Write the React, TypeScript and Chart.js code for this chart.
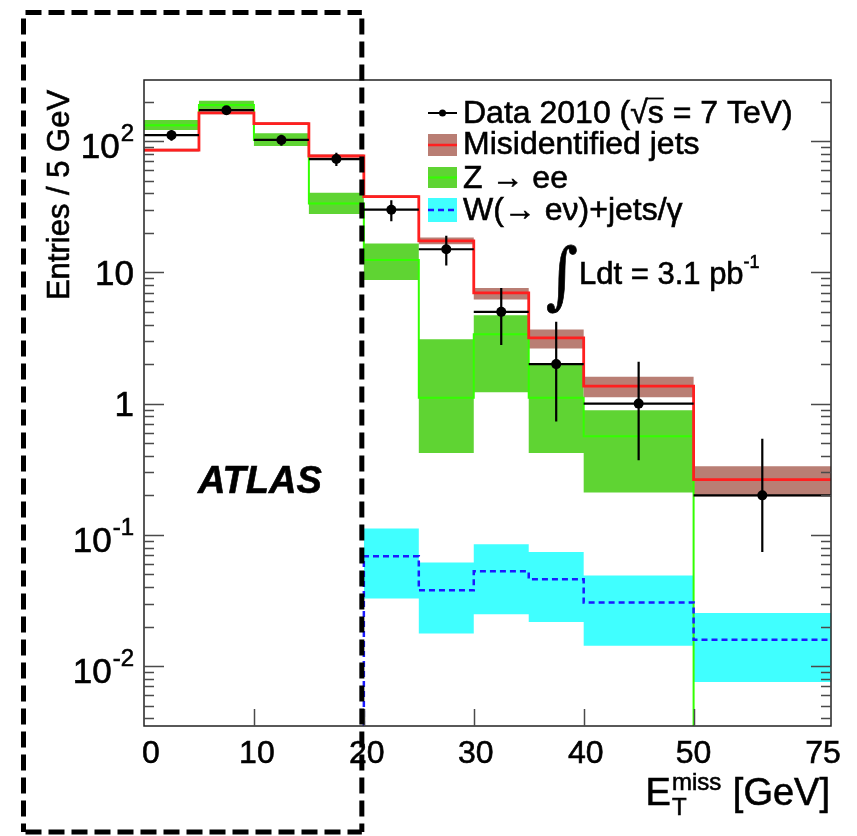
import { useEffect, useRef } from "react";
import { Chart, registerables } from "chart.js";

Chart.register(...registerables);

// Bin edges in GeV; the last bin spans 50–75 GeV
const binEdges = [0, 5, 10, 15, 20, 25, 30, 35, 40, 50, 75];

// Data 2010: entries / 5 GeV and the ends of the error bars
const dataValues = [111, 172, 102, 73, 30, 15, 5, 2, 1, 0.2];
const dataHigh = [121.5, 185, 112, 81.5, 35.5, 19, 7.6, 4.2, 2.08, 0.54];
const dataLow = [100.5, 159, 92, 64.5, 24.5, 11.3, 2.8, 0.73, 0.37, 0.074];

// Misidentified jets: central value and uncertainty band
const jetsValues = [85.4, 164, 136, 77, 37.7, 17.4, 6.98, 3.17, 1.36, 0.264];
const jetsHigh = [87.5, 168, 139, 79, 38.6, 18.4, 7.6, 3.67, 1.6, 0.333];
const jetsLow = [83.3, 160, 133, 75, 36.8, 16.4, 6.2, 2.63, 1.12, 0.197];

// Z -> ee: central value and uncertainty band (no entries above 50 GeV)
const zeeValues = [132, 188, 102, 33.5, 12.4, 1.11, 3.37, 1.11, 0.565, 0];
const zeeHigh = [144.6, 203, 114.5, 40.4, 16.6, 3.09, 4.71, 2.02, 0.89, null];
const zeeLow = [121.3, 174.5, 91.6, 27.8, 8.76, 0.42, 1.22, 0.42, 0.21, null];

// W(-> e nu)+jets/gamma: central value and uncertainty band (none below 20 GeV)
const wValues = [0, 0, 0, 0, 0.0687, 0.0378, 0.0528, 0.0459, 0.0305, 0.0159];
const wHigh = [null, null, null, null, 0.1117, 0.0615, 0.0848, 0.0742, 0.049, 0.0254];
const wLow = [null, null, null, null, 0.0327, 0.0177, 0.0248, 0.0217, 0.0143, 0.00757];

// Axis ticks
const xTickValues = [0, 10, 20, 30, 40, 50, 75];
const yDecades = [-2, -1, 0, 1, 2];
const Y_MIN = 0.0035;
const Y_MAX = 292;

// The 50–75 GeV bin is drawn at half the width per GeV of the others
const axisX = (gev: number) => (gev <= 50 ? gev : 50 + (gev - 50) / 2);

// Step-histogram points: one point per left edge, plus the right edge of each run
function stepSeries(vals: (number | null)[]) {
  const pts: { x: number; y: number }[] = [];
  vals.forEach((v, i) => {
    if (v === null) return;
    const y = v > 0 ? v : Y_MIN / 10; // empty bins fall below the axis floor
    pts.push({ x: axisX(binEdges[i]), y });
    if (i === vals.length - 1 || vals[i + 1] === null) {
      pts.push({ x: axisX(binEdges[i + 1]), y });
    }
  });
  return pts;
}

const FAMILY = '"Liberation Sans", Arial, Helvetica, sans-serif';
const font = (px: number, style = "") => `${style} ${px}px ${FAMILY}`.trim();

const COLORS = {
  jetsBand: "#b97e74",
  jetsLine: "#ff1f1f",
  zeeBand: "#5fd433",
  zeeLine: "#33ff00",
  wBand: "#40ffff",
  wLine: "#1a1aff",
};

// filled text with a thin outline so the glyphs carry a little more weight
function text(ctx: CanvasRenderingContext2D, s: string, x: number, y: number) {
  ctx.fillText(s, x, y);
  ctx.save();
  ctx.lineWidth = 0.6;
  ctx.strokeStyle = ctx.fillStyle as string;
  ctx.setLineDash([]);
  ctx.strokeText(s, x, y);
  ctx.restore();
}

const decorations = {
  id: "atlasDecorations",
  afterDatasetsDraw(chart: any) {
    const { ctx, scales } = chart;
    const xs = scales.x;
    const ys = scales.y;
    ctx.save();
    ctx.strokeStyle = "#000";
    ctx.lineWidth = 2.2;
    dataValues.forEach((v, i) => {
      const xl = xs.getPixelForValue(axisX(binEdges[i]));
      const xr = xs.getPixelForValue(axisX(binEdges[i + 1]));
      const xc = xs.getPixelForValue(axisX((binEdges[i] + binEdges[i + 1]) / 2));
      const yv = ys.getPixelForValue(v);
      ctx.beginPath();
      ctx.moveTo(xl, yv);
      ctx.lineTo(xr, yv);
      ctx.moveTo(xc, ys.getPixelForValue(dataHigh[i]));
      ctx.lineTo(xc, ys.getPixelForValue(dataLow[i]));
      ctx.stroke();
    });
    ctx.restore();
  },
  afterDraw(chart: any) {
    const { ctx, chartArea: a, scales } = chart;
    const xs = scales.x;
    const ys = scales.y;
    ctx.save();

    // frame
    ctx.strokeStyle = "#222";
    ctx.lineWidth = 1.5;
    ctx.strokeRect(a.left, a.top, a.right - a.left, a.bottom - a.top);

    // y ticks, left and right, pointing inward
    ctx.strokeStyle = "#4a4a4a";
    ctx.lineWidth = 1.5;
    for (let d = -3; d <= 2; d++) {
      for (let m = 1; m <= 9; m++) {
        const v = m * Math.pow(10, d);
        if (v < Y_MIN || v > Y_MAX) continue;
        const py = Math.round(ys.getPixelForValue(v)) + 0.5;
        const len = m === 1 ? 20 : 10;
        ctx.beginPath();
        ctx.moveTo(a.left, py);
        ctx.lineTo(a.left + len, py);
        ctx.moveTo(a.right, py);
        ctx.lineTo(a.right - len, py);
        ctx.stroke();
      }
    }
    // x ticks along the bottom
    xTickValues.slice(1, -1).forEach((v) => {
      const px = Math.round(xs.getPixelForValue(axisX(v))) + 0.5;
      ctx.beginPath();
      ctx.moveTo(px, a.bottom);
      ctx.lineTo(px, a.bottom - 17);
      ctx.stroke();
    });

    ctx.fillStyle = "#000";
    ctx.textBaseline = "alphabetic";
    ctx.textAlign = "left";

    // y tick labels
    yDecades.forEach((d) => {
      const py = ys.getPixelForValue(Math.pow(10, d));
      const base = d === 0 ? "1" : "10";
      const exp = d === 0 || d === 1 ? "" : String(d);
      ctx.font = font(35);
      const bw = ctx.measureText(base).width;
      ctx.font = font(24);
      const ew = exp ? ctx.measureText(exp).width + 1 : 0;
      const right = 134;
      ctx.font = font(35);
      text(ctx, base, right - ew - bw, exp ? py + 17 : py + 12.5);
      if (exp) {
        ctx.font = font(24);
        text(ctx, exp, right - ew + 1, py);
      }
    });

    // x tick labels
    const xOffsets = [7, 3, 3, 2, 2, 0, -8];
    ctx.font = font(32);
    ctx.textAlign = "center";
    xTickValues.forEach((v, i) => {
      const px = xs.getPixelForValue(axisX(v)) + xOffsets[i];
      text(ctx, String(v), px, 763);
    });

    // x title: E_T^miss [GeV]
    ctx.textAlign = "left";
    ctx.font = font(38);
    const wE = ctx.measureText("E").width;
    const wRest = ctx.measureText(" [GeV]").width;
    ctx.font = font(24);
    const wSup = ctx.measureText("miss").width;
    const x0 = 830 - (wE + wSup + wRest + 2);
    const base = 805;
    ctx.font = font(38);
    text(ctx, "E", x0, base);
    text(ctx, " [GeV]", x0 + wE + wSup + 2, base);
    ctx.font = font(24);
    text(ctx, "miss", x0 + wE + 1, base - 15);
    text(ctx, "T", x0 + wE + 1, base + 10);

    // y title
    ctx.save();
    ctx.translate(69, 195);
    ctx.rotate(-Math.PI / 2);
    ctx.font = font(31);
    ctx.textAlign = "center";
    text(ctx, "Entries / 5 GeV", 0, 0);
    ctx.restore();

    // ATLAS label
    ctx.font = font(38, "italic bold");
    ctx.textAlign = "left";
    text(ctx, "ATLAS", 198, 493);

    // legend
    const lx0 = 428;
    const lx1 = 457;
    const tx = 463;
    ctx.font = font(32);
    // data entry
    ctx.strokeStyle = "#000";
    ctx.lineWidth = 2;
    ctx.beginPath();
    ctx.moveTo(lx0, 113);
    ctx.lineTo(lx1, 113);
    ctx.stroke();
    ctx.beginPath();
    ctx.arc((lx0 + lx1) / 2, 113, 3.5, 0, Math.PI * 2);
    ctx.fill();
    const dataLabelA = "Data 2010 (";
    text(ctx, dataLabelA, tx, 123);
    let cx = tx + ctx.measureText(dataLabelA).width;
    text(ctx, "\u221A", cx, 123);
    cx += ctx.measureText("\u221A").width;
    const sW = ctx.measureText("s").width;
    text(ctx, "s", cx, 123);
    ctx.lineWidth = 1.8;
    ctx.beginPath();
    ctx.moveTo(cx - 1, 98.5);
    ctx.lineTo(cx + sW, 98.5);
    ctx.stroke();
    cx += sW;
    text(ctx, " = 7 TeV)", cx, 123);

    // misidentified jets entry
    ctx.fillStyle = COLORS.jetsBand;
    ctx.fillRect(lx0, 134, lx1 - lx0, 22);
    ctx.strokeStyle = COLORS.jetsLine;
    ctx.lineWidth = 2.5;
    ctx.beginPath();
    ctx.moveTo(lx0, 145);
    ctx.lineTo(lx1, 145);
    ctx.stroke();
    ctx.fillStyle = "#000";
    text(ctx, "Misidentified jets", tx, 154);

    // Z -> ee entry
    ctx.fillStyle = COLORS.zeeBand;
    ctx.fillRect(lx0, 167, lx1 - lx0, 21);
    ctx.strokeStyle = COLORS.zeeLine;
    ctx.lineWidth = 2;
    ctx.beginPath();
    ctx.moveTo(lx0, 177.5);
    ctx.lineTo(lx1, 177.5);
    ctx.stroke();
    ctx.fillStyle = "#000";
    text(ctx, "Z \u2192 ee", tx, 188);

    // W entry
    ctx.fillStyle = COLORS.wBand;
    ctx.fillRect(lx0, 198, lx1 - lx0, 24);
    ctx.strokeStyle = COLORS.wLine;
    ctx.lineWidth = 2.5;
    ctx.setLineDash([6, 4]);
    ctx.beginPath();
    ctx.moveTo(lx0, 210);
    ctx.lineTo(lx1, 210);
    ctx.stroke();
    ctx.setLineDash([]);
    ctx.fillStyle = "#000";
    text(ctx, "W(\u2192 e\u03BD)+jets/\u03B3", tx, 220);

    // integrated luminosity
    ctx.save();
    ctx.translate(546, 300);
    ctx.scale(1.1, 1.3);
    ctx.font = '56px "DejaVu Serif", serif';
    text(ctx, "\u222B", 0, 0);
    ctx.restore();
    ctx.font = font(31);
    const lumi = "Ldt = 3.1 pb";
    text(ctx, lumi, 579, 284);
    const lw = ctx.measureText(lumi).width;
    ctx.font = font(18);
    text(ctx, "-1", 579 + lw, 268);

    // dashed highlight box over the 0–20 GeV region
    ctx.strokeStyle = "#000";
    ctx.lineWidth = 5;
    ctx.setLineDash([16, 7]);
    const bx0 = 23.5;
    const bx1 = xs.getPixelForValue(axisX(20)) - 2;
    const by0 = 12.5;
    const by1 = 832;
    ctx.beginPath();
    ctx.moveTo(bx0 + 2, by0);
    ctx.lineTo(bx1, by0);
    ctx.moveTo(bx0, by0 + 6);
    ctx.lineTo(bx0, by1);
    ctx.moveTo(bx1, by0 + 6);
    ctx.lineTo(bx1, by1);
    ctx.moveTo(bx0 + 2, by1);
    ctx.lineTo(bx1, by1);
    ctx.stroke();
    ctx.setLineDash([]);

    ctx.restore();
  },
};

export default function App() {
  const canvasRef = useRef<HTMLCanvasElement | null>(null);

  useEffect(() => {
    const canvas = canvasRef.current;
    if (!canvas) return;

    const band = (vals: (number | null)[], fill: string | false, color: string) => ({
      data: stepSeries(vals),
      stepped: true,
      borderWidth: 0,
      borderColor: "rgba(0,0,0,0)",
      backgroundColor: color,
      pointRadius: 0,
      fill,
      order: 5,
    });

    const chart = new Chart(canvas, {
      type: "line",
      data: {
        datasets: [
          band(jetsHigh, false, COLORS.jetsBand),
          band(jetsLow, "-1", COLORS.jetsBand),
          band(zeeHigh, false, COLORS.zeeBand),
          band(zeeLow, "-1", COLORS.zeeBand),
          band(wHigh, false, COLORS.wBand),
          band(wLow, "-1", COLORS.wBand),
          {
            label: "Z \u2192 ee",
            data: stepSeries(zeeValues),
            stepped: true,
            borderColor: COLORS.zeeLine,
            borderWidth: 2,
            pointRadius: 0,
            fill: false,
            order: 3,
          },
          {
            label: "W(\u2192 e\u03BD)+jets/\u03B3",
            data: stepSeries(wValues),
            stepped: true,
            borderColor: COLORS.wLine,
            borderWidth: 2.5,
            borderDash: [6, 4],
            pointRadius: 0,
            fill: false,
            order: 2,
          },
          {
            label: "Misidentified jets",
            data: stepSeries(jetsValues),
            stepped: true,
            borderColor: COLORS.jetsLine,
            borderWidth: 2.8,
            pointRadius: 0,
            fill: false,
            order: 1,
          },
          {
            label: "Data 2010",
            data: dataValues.map((v, i) => ({
              x: axisX((binEdges[i] + binEdges[i + 1]) / 2),
              y: v,
            })),
            showLine: false,
            pointRadius: 5,
            pointBackgroundColor: "#000",
            pointBorderWidth: 0,
            borderColor: "#000",
            order: 0,
          },
        ],
      },
      options: {
        animation: false,
        responsive: false,
        devicePixelRatio: 1,
        layout: { padding: { left: 144, right: 26, top: 80, bottom: 110 } },
        scales: {
          x: { type: "linear", min: 0, max: axisX(75), display: false },
          y: { type: "logarithmic", min: Y_MIN, max: Y_MAX, display: false },
        },
        plugins: {
          legend: { display: false },
          tooltip: { enabled: false },
        },
      },
      plugins: [decorations],
    } as any);

    return () => chart.destroy();
  }, []);

  return (
    <div style={{ position: "absolute", left: 0, top: 0, width: 857, height: 836, background: "#fff" }}>
      <canvas ref={canvasRef} width={857} height={836} style={{ display: "block" }} />
    </div>
  );
}
